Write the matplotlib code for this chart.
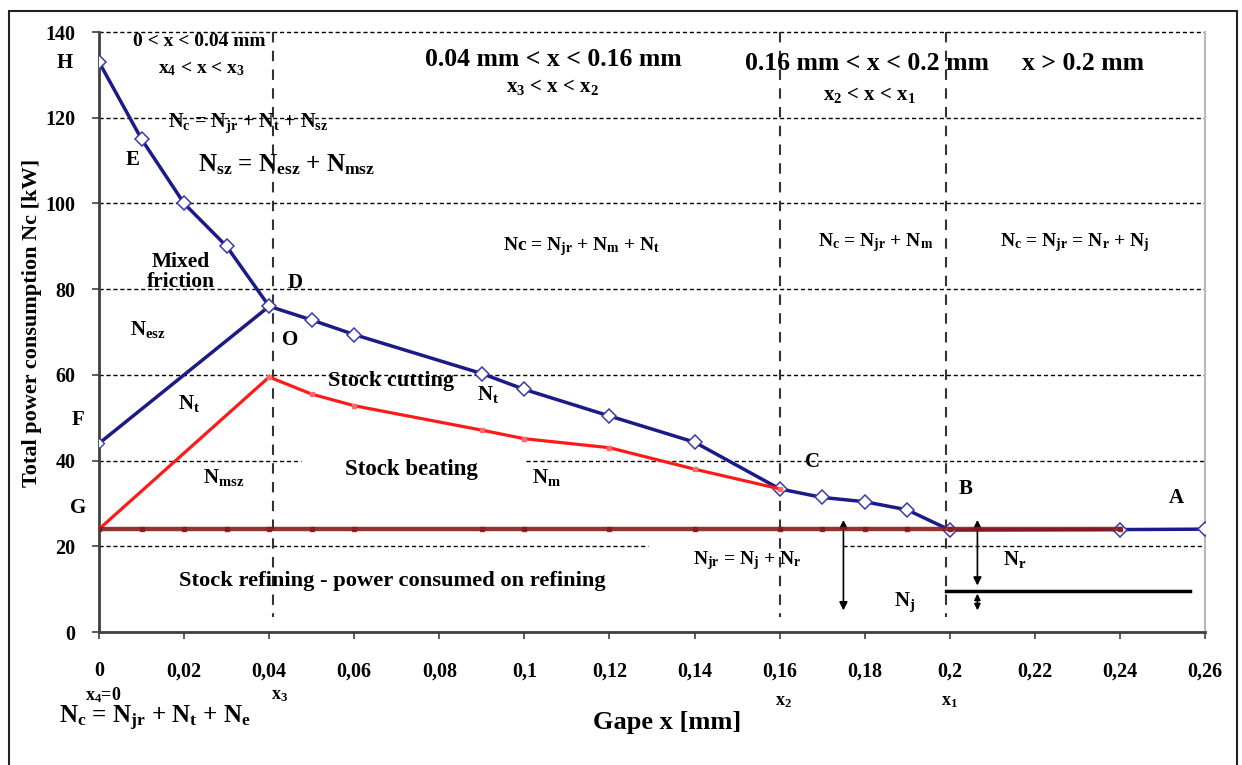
import matplotlib

matplotlib.use("Agg")
import matplotlib.pyplot as plt
from matplotlib.patches import Rectangle

plt.rcParams["font.family"] = ["Liberation Serif", "DejaVu Serif"]
plt.rcParams["font.weight"] = "bold"
plt.rcParams["mathtext.fontset"] = "custom"
plt.rcParams["mathtext.rm"] = "Liberation Serif:bold"
plt.rcParams["mathtext.it"] = "Liberation Serif:bold"
plt.rcParams["mathtext.bf"] = "Liberation Serif:bold"
plt.rcParams["mathtext.default"] = "rm"

# total power consumption Nc (blue), from H down to A
nc_x = [0, 0.01, 0.02, 0.03, 0.04, 0.05, 0.06, 0.09, 0.10, 0.12, 0.14,
        0.16, 0.17, 0.18, 0.19, 0.20, 0.24, 0.26]
nc_y = [133, 115, 100, 90, 76, 72.8, 69.4, 60.3, 56.6, 50.4, 44.3,
        33.4, 31.4, 30.4, 28.5, 23.8, 23.9, 24]
# Nt branch F -> O
nt_x = [0, 0.04]
nt_y = [44, 76]
# beating power Nm (red), G -> C
nm_x = [0, 0.04, 0.05, 0.06, 0.09, 0.10, 0.12, 0.14, 0.16]
nm_y = [24, 59.5, 55.5, 52.8, 47.1, 45.1, 43, 38, 33.4]
# refining power Njr (dark red)
njr_x = [0, 0.01, 0.02, 0.03, 0.04, 0.05, 0.06, 0.09, 0.10, 0.12, 0.14,
         0.16, 0.17, 0.18, 0.19, 0.20, 0.24]
njr_y = [24] * len(njr_x)

x_ticks = [0, 0.02, 0.04, 0.06, 0.08, 0.10, 0.12, 0.14, 0.16, 0.18, 0.20,
           0.22, 0.24, 0.26]
x_ticklabels = ["0", "0,02", "0,04", "0,06", "0,08", "0,1", "0,12", "0,14",
                "0,16", "0,18", "0,2", "0,22", "0,24", "0,26"]
y_ticks = [0, 20, 40, 60, 80, 100, 120, 140]
x_marks = {"x$_4$=0": 0.001, "x$_3$": 0.0425, "x$_2$": 0.161, "x$_1$": 0.2}
region_bounds = [0.041, 0.16, 0.199]

fig = plt.figure(figsize=(12.42, 7.65), dpi=100)
ax = fig.add_axes([99 / 1242, 1 - 632 / 765, 1106 / 1242, 600 / 765])
ax.set_xlim(0, 0.26)
ax.set_ylim(0, 140)

# dashed grid, broken where the labels sit
grid_segments = {20: [(0, 0.129), (0.175, 0.26)], 40: [(0, 0.0475), (0.1004, 0.26)]}
for lvl in y_ticks[1:]:
    for x0, x1 in grid_segments.get(lvl, [(0, 0.26)]):
        ax.plot([x0, x1], [lvl, lvl], color="black", lw=1.0,
                ls=(0, (3, 2)), zorder=1, clip_on=False)

for xb in region_bounds:
    ax.plot([xb, xb], [140, 3.5], color="#333333", lw=1.5,
            ls=(0, (5, 4)), zorder=1)

ax.plot(nt_x, nt_y, color="#1a1a88", lw=2.5, marker="D", ms=5,
        mfc="white", mec="#3a3aa8", zorder=3)
ax.plot(nc_x, nc_y, color="#1a1a88", lw=2.5, marker="D", ms=7,
        mfc="white", mec="#3a3aa8", mew=1.1, zorder=3)
ax.plot(nm_x, nm_y, color="#ff1a1a", lw=2.3, marker="s", ms=3.5,
        mfc="#ff6a6a", mec="#ff6a6a", zorder=4)
ax.plot(njr_x, njr_y, color="#8a1c1c", lw=3.2, marker="s", ms=3.5,
        alpha=0.9, zorder=4)

# arrows for Njr, Nr, Nj
arrow = dict(arrowstyle="<|-|>", color="black", lw=1.2, mutation_scale=12)
ax.annotate("", xy=(0.175, 26.8), xytext=(0.175, 4.4), arrowprops=arrow)
ax.annotate("", xy=(0.2065, 26.8), xytext=(0.2065, 10.2), arrowprops=arrow)
ax.annotate("", xy=(0.2065, 9.6), xytext=(0.2065, 4.4),
            arrowprops=dict(arrowstyle="<|-|>", color="black", lw=1.2,
                            mutation_scale=9))
ax.plot([0.199, 0.2565], [9.6, 9.6], color="black", lw=2.5, zorder=3)

ax.set_xticks(x_ticks)
ax.set_xticklabels(x_ticklabels)
ax.set_yticks(y_ticks)
ax.tick_params(axis="x", direction="out", length=5, width=1.2,
               pad=16, labelsize=14.5, color="#404040")
ax.tick_params(axis="y", direction="out", length=5, width=1.2,
               pad=12, labelsize=14.5, color="#404040")
ax.spines["top"].set_visible(False)
ax.spines["right"].set_color("#b8b8b8")
ax.spines["right"].set_linewidth(1.5)
ax.spines["left"].set_color("#404040")
ax.spines["left"].set_linewidth(2)
ax.spines["bottom"].set_color("#404040")
ax.spines["bottom"].set_linewidth(2)

ax.set_xlabel("Gape x [mm]", fontsize=19, fontweight="bold")
ax.xaxis.set_label_coords((667 - 99) / 1106, (632 - 722) / 600)
ax.xaxis.label.set_va("center")
ax.set_ylabel("Total power consumption Nc [kW]", fontsize=16,
              fontweight="bold")
ax.yaxis.set_label_coords(-0.0515, 0.515)

for lab, xm in x_marks.items():
    ym = -14.8 if xm < 0.1 else -16.3
    ax.text(xm, ym, lab, ha="center", va="center", fontsize=13,
            clip_on=False)

labels = [
    (0.0235, 137.7, "0 < x < 0.04 mm", 14),
    (0.024, 131.4, "x$_4$ < x < x$_3$", 14),
    (0.1067, 133.5, "0.04 mm < x < 0.16 mm", 18.5),
    (0.1067, 127.2, "x$_3$ < x < x$_2$", 15),
    (0.1806, 132.6, "0.16 mm < x < 0.2 mm", 18.5),
    (0.2313, 132.6, "x > 0.2 mm", 18.5),
    (0.1812, 125.2, "x$_2$ < x < x$_1$", 15),
    (0.035, 118.8, "N$_c$ = N$_{jr}$ + N$_t$ + N$_{sz}$", 14.5),
    (0.0442, 109, "N$_{sz}$ = N$_{esz}$ + N$_{msz}$", 18),
    (0.1135, 90, "Nc = N$_{jr}$ + N$_m$ + N$_t$", 14),
    (0.1825, 90.8, "N$_c$ = N$_{jr}$ + N$_m$", 14),
    (0.2294, 90.8, "N$_c$ = N$_{jr}$ = N$_r$ + N$_j$", 14),
    (-0.008, 132.7, "H", 15),
    (0.008, 110.1, "E", 15),
    (0.0193, 84, "Mixed\nfriction", 15.5),
    (0.046, 81.4, "D", 15),
    (0.0449, 68.1, "O", 15),
    (0.0115, 70.6, "N$_{esz}$", 15),
    (-0.005, 49.5, "F", 15),
    (0.0212, 53.2, "N$_t$", 15),
    (0.0687, 58.6, "Stock cutting", 16),
    (0.0915, 55.4, "N$_t$", 15),
    (-0.005, 28.9, "G", 15),
    (0.0292, 36, "N$_{msz}$", 15),
    (0.0734, 37.8, "Stock beating", 16.5),
    (0.1053, 36, "N$_m$", 15),
    (0.069, 11.9, "Stock refining - power consumed on refining", 16.2),
    (0.1678, 39.7, "C", 15),
    (0.2038, 33.4, "B", 15),
    (0.2533, 31.3, "A", 15),
    (0.1523, 16.6, "N$_{jr}$ = N$_j$ + N$_r$", 14),
    (0.2153, 16.8, "N$_r$", 15),
    (0.1895, 7, "N$_j$", 15),
    (0.0132, -20.2, "N$_c$ = N$_{jr}$ + N$_t$ + N$_e$", 18),
]
for xt, yt, txt, fs in labels:
    ax.text(xt, yt, txt, ha="center", va="center", fontsize=fs,
            linespacing=1.0, clip_on=False, zorder=5)

fig.add_artist(Rectangle((9 / 1242, -0.02), 1228 / 1242, 1 - 11 / 765 + 0.02,
                         transform=fig.transFigure, fill=False,
                         edgecolor="#222222", lw=1.5))

fig.savefig("out.png", dpi=100)
plt.close(fig)
